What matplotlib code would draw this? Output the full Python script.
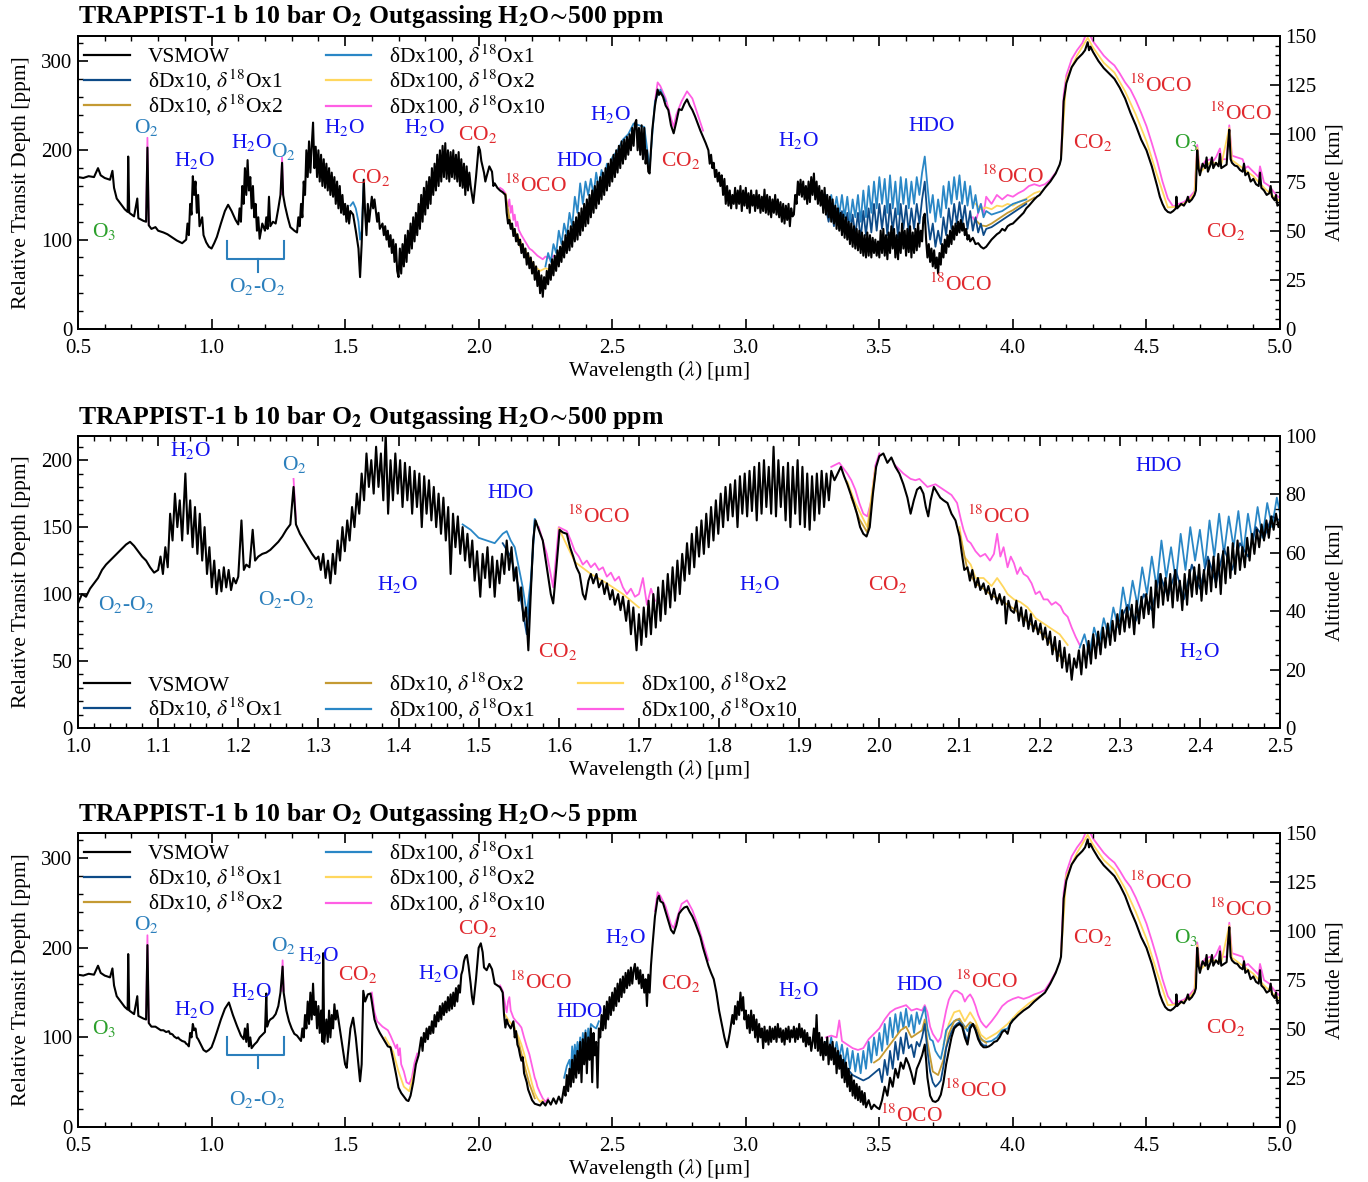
import numpy as np
import matplotlib
matplotlib.use("Agg")
import matplotlib.pyplot as plt
from matplotlib.ticker import MultipleLocator
from matplotlib.lines import Line2D

plt.rcParams['font.family'] = ['Liberation Serif', 'DejaVu Serif']
plt.rcParams['mathtext.fontset'] = 'stix'
plt.rcParams['axes.linewidth'] = 1.3

# ---------------------------------------------------------------- series
series_labels = ["VSMOW",
                 "δDx10, $\\delta^{18}$Ox1",
                 "δDx10, $\\delta^{18}$Ox2",
                 "δDx100, $\\delta^{18}$Ox1",
                 "δDx100, $\\delta^{18}$Ox2",
                 "δDx100, $\\delta^{18}$Ox10"]
series_colors = ["black", "#0d4a87", "#c49a33", "#2a87c6", "#ffd75e", "#ff5fe4"]

# Spectra are stored as flat (wavelength [um], depth [ppm]) pairs.
# Shared short-wavelength start (0.50-0.765 um) of the 0.5-5 um spectra
head_vsmow = [0.50,170, 0.52,169, 0.54,171, 0.56,170, 0.575,180, 0.585,172, 0.60,169,
              0.62,167, 0.629,177, 0.635,158, 0.645,146, 0.66,140, 0.675,134, 0.686,131,
              0.688,193, 0.692,130, 0.71,126, 0.722,146, 0.726,124, 0.745,121, 0.755,120,
              0.76,203, 0.765,116]

# Shared 4.3 um CO2 band and red end
tail_vsmow = [4.175,184, 4.18,190, 4.185,220, 4.19,255, 4.20,275, 4.22,293, 4.24,302,
              4.26,308, 4.27,312, 4.28,321, 4.285,312, 4.29,316, 4.30,310, 4.32,300,
              4.34,292, 4.36,286, 4.38,280, 4.40,270, 4.42,258, 4.44,242, 4.46,228,
              4.48,212, 4.50,200, 4.52,182, 4.54,160, 4.55,148, 4.56,140, 4.57,134,
              4.58,131, 4.59,130, 4.60,132, 4.61,135, 4.612,148, 4.615,135, 4.63,140,
              4.64,138, 4.65,143, 4.655,148, 4.66,142, 4.67,145, 4.68,150, 4.685,155,
              4.69,200, 4.695,180, 4.70,172, 4.71,185, 4.72,180, 4.725,192, 4.73,176,
              4.74,184, 4.745,192, 4.75,180, 4.76,186, 4.77,182, 4.775,196, 4.78,180,
              4.79,182, 4.80,184, 4.805,205, 4.81,223, 4.815,190, 4.82,186, 4.83,183,
              4.84,182, 4.85,178, 4.86,176, 4.865,185, 4.87,172, 4.88,175, 4.89,165,
              4.90,168, 4.91,162, 4.92,160, 4.925,175, 4.93,158, 4.94,155, 4.95,150,
              4.96,152, 4.965,160, 4.97,148, 4.98,144, 4.985,150, 4.99,138, 5.00,140]
tail_pink = [4.18,192, 4.19,262, 4.20,284, 4.22,302, 4.24,312, 4.26,320, 4.28,334,
             4.30,322, 4.32,314, 4.34,306, 4.36,300, 4.38,295, 4.40,286, 4.42,276,
             4.44,268, 4.46,256, 4.48,242, 4.50,227, 4.52,208, 4.54,188, 4.56,165,
             4.58,146, 4.60,137, 4.62,140, 4.64,142, 4.66,147, 4.68,154, 4.69,206,
             4.70,178, 4.72,188, 4.74,190, 4.75,188, 4.76,192, 4.775,202, 4.78,190,
             4.80,190, 4.81,228, 4.82,194, 4.84,192, 4.86,190, 4.87,180, 4.88,182,
             4.90,176, 4.92,170, 4.925,182, 4.94,164, 4.96,160, 4.98,152, 5.00,146]
tail_yellow = [4.18,191, 4.20,280, 4.24,306, 4.28,326, 4.30,315, 4.34,298, 4.38,287,
               4.42,266, 4.46,240, 4.50,210, 4.54,172, 4.58,136, 4.62,137, 4.66,144,
               4.68,152, 4.69,203, 4.70,175, 4.74,187, 4.78,184, 4.81,225, 4.82,189,
               4.86,180, 4.90,171, 4.94,158, 4.98,147, 5.00,143]

# ---- Panel 1: H2O ~500 ppm, 0.5-5 um
p1_vsmow_mid = [
    0.775,112, 0.79,114, 0.80,110, 0.82,108, 0.835,106, 0.85,103, 0.87,99, 0.89,96,
    0.905,100, 0.91,118, 0.915,105, 0.92,140, 0.925,128, 0.93,171, 0.935,150, 0.94,165,
    0.945,130, 0.95,150, 0.955,115, 0.965,125, 0.97,105, 0.98,97, 0.99,92, 1.00,90,
    1.01,96, 1.02,103, 1.035,118, 1.05,132, 1.062,139, 1.075,132, 1.09,122, 1.10,117,
    1.105,135, 1.11,120, 1.115,160, 1.12,140, 1.125,180, 1.13,150, 1.135,189, 1.14,155,
    1.145,170, 1.15,135, 1.155,160, 1.16,125, 1.165,140, 1.17,110, 1.175,125, 1.18,101,
    1.19,118, 1.20,110, 1.205,125, 1.21,112, 1.215,148, 1.22,115, 1.23,120, 1.24,118,
    1.25,135, 1.258,150, 1.264,186, 1.268,150, 1.275,138, 1.285,125, 1.295,114, 1.31,110,
    1.32,108, 1.325,125, 1.33,115, 1.335,140, 1.34,125, 1.345,165, 1.35,150, 1.355,200,
    1.36,170, 1.365,210, 1.37,175, 1.375,205, 1.38,231, 1.385,180, 1.39,204, 1.395,170,
    1.40,200, 1.405,165, 1.41,195, 1.415,160, 1.42,190, 1.425,158, 1.43,185, 1.435,155,
    1.44,180, 1.445,150, 1.45,175, 1.455,148, 1.46,170, 1.465,140, 1.47,165, 1.475,135,
    1.48,160, 1.485,130, 1.49,150, 1.495,128, 1.50,140, 1.505,120, 1.51,138, 1.515,118,
    1.52,132, 1.53,128, 1.54,110, 1.55,90, 1.556,58, 1.562,95, 1.57,167, 1.575,130,
    1.58,105, 1.585,140, 1.59,120, 1.60,148, 1.605,135, 1.61,145, 1.62,120, 1.625,130,
    1.63,112, 1.64,118, 1.645,105, 1.65,115, 1.655,100, 1.66,110, 1.665,92, 1.67,105,
    1.675,85, 1.68,100, 1.685,75, 1.69,95, 1.695,65, 1.70,58, 1.705,90, 1.71,62, 1.715,95,
    1.72,70, 1.725,105, 1.73,75, 1.735,110, 1.74,85, 1.745,118, 1.75,90, 1.755,125,
    1.76,98, 1.765,130, 1.77,105, 1.775,140, 1.78,112, 1.785,150, 1.79,120, 1.795,158,
    1.80,128, 1.805,165, 1.81,135, 1.815,170, 1.82,140, 1.825,180, 1.83,150, 1.835,185,
    1.84,155, 1.845,195, 1.85,160, 1.855,200, 1.86,165, 1.865,205, 1.87,170, 1.875,208,
    1.88,168, 1.885,200, 1.89,165, 1.895,198, 1.90,170, 1.905,200, 1.91,168, 1.915,195,
    1.92,165, 1.925,198, 1.93,160, 1.935,190, 1.94,158, 1.945,185, 1.95,150, 1.955,182,
    1.96,155, 1.965,175, 1.97,160, 1.975,150, 1.98,141, 1.99,170, 2.00,204, 2.005,200,
    2.01,188, 2.02,175, 2.025,165, 2.03,171, 2.04,182, 2.05,176, 2.055,160, 2.06,163,
    2.07,158, 2.08,155, 2.09,153, 2.10,150, 2.105,130, 2.11,118, 2.115,122, 2.12,112,
    2.125,118, 2.13,104, 2.135,112, 2.14,98, 2.145,106, 2.15,94, 2.155,100, 2.16,85,
    2.165,95, 2.17,80, 2.175,90, 2.18,72, 2.185,85, 2.19,68, 2.195,80, 2.20,62, 2.205,75,
    2.21,55, 2.215,70, 2.22,48, 2.225,65, 2.23,40, 2.235,60, 2.24,36, 2.245,58, 2.25,45,
    2.255,65, 2.26,50, 2.265,72, 2.27,55, 2.275,78, 2.28,60, 2.285,82, 2.29,65, 2.295,88,
    2.30,70, 2.305,92, 2.31,75, 2.315,98, 2.32,80, 2.325,105, 2.33,85, 2.335,110, 2.34,88,
    2.345,115, 2.35,92, 2.355,120, 2.36,98, 2.365,125, 2.37,100, 2.375,130, 2.38,105,
    2.385,135, 2.39,110, 2.395,140, 2.40,115, 2.405,145, 2.41,118, 2.415,150, 2.42,125,
    2.425,155, 2.43,130, 2.435,160, 2.44,135, 2.445,165, 2.45,140, 2.455,170, 2.46,145,
    2.465,175, 2.47,150, 2.475,180, 2.48,155, 2.485,185, 2.49,160, 2.495,190, 2.50,165,
    2.505,195, 2.51,170, 2.515,200, 2.52,175, 2.525,205, 2.53,180, 2.535,210, 2.54,185,
    2.545,212, 2.55,190, 2.555,215, 2.56,195, 2.565,218, 2.57,200, 2.575,225, 2.58,205,
    2.585,230, 2.59,234, 2.595,200, 2.60,225, 2.605,195, 2.61,228, 2.615,190, 2.62,225,
    2.625,185, 2.63,200, 2.635,176, 2.64,174, 2.645,200, 2.65,223, 2.66,250, 2.67,268,
    2.675,262, 2.68,265, 2.69,260, 2.70,250, 2.71,245, 2.72,228, 2.73,219, 2.74,232,
    2.75,246, 2.76,245, 2.77,252, 2.78,257, 2.79,250, 2.80,245, 2.81,238, 2.82,230,
    2.83,222, 2.84,215, 2.85,208, 2.86,200, 2.865,185, 2.87,195, 2.875,180, 2.88,186,
    2.885,170, 2.89,178, 2.895,165, 2.90,175, 2.905,160, 2.91,172, 2.915,150, 2.92,168,
    2.925,140, 2.93,160, 2.935,138, 2.94,155, 2.945,135, 2.95,150, 2.955,140, 2.96,158,
    2.965,135, 2.97,155, 2.975,140, 2.98,160, 2.985,132, 2.99,155, 2.995,138, 3.00,158,
    3.005,135, 3.01,152, 3.015,130, 3.02,155, 3.025,138, 3.03,150, 3.035,132, 3.04,155,
    3.045,135, 3.05,150, 3.055,130, 3.06,148, 3.065,132, 3.07,156, 3.075,130, 3.08,150,
    3.085,128, 3.09,148, 3.095,125, 3.10,145, 3.105,130, 3.11,150, 3.115,128, 3.12,145,
    3.125,125, 3.13,142, 3.135,120, 3.14,140, 3.145,118, 3.15,138, 3.155,122, 3.16,140,
    3.165,115, 3.17,135, 3.175,126, 3.18,128, 3.185,150, 3.19,140, 3.195,165, 3.20,150,
    3.205,167, 3.21,148, 3.215,165, 3.22,145, 3.225,160, 3.23,140, 3.235,165, 3.24,142,
    3.245,170, 3.25,150, 3.255,174, 3.26,145, 3.265,165, 3.27,140, 3.275,160, 3.28,138,
    3.285,155, 3.29,130, 3.295,158, 3.30,128, 3.305,150, 3.31,125, 3.315,148, 3.32,120,
    3.325,145, 3.33,118, 3.335,138, 3.34,112, 3.345,135, 3.35,110, 3.355,130, 3.36,105,
    3.365,128, 3.37,102, 3.375,125, 3.38,100, 3.385,120, 3.39,95, 3.395,118, 3.40,92,
    3.405,115, 3.41,90, 3.415,112, 3.42,88, 3.425,110, 3.43,85, 3.435,108, 3.44,82,
    3.445,105, 3.45,80, 3.455,108, 3.46,82, 3.465,105, 3.47,80, 3.475,102, 3.48,85,
    3.485,100, 3.49,82, 3.495,98, 3.50,80, 3.505,110, 3.51,85, 3.515,112, 3.52,82,
    3.525,105, 3.53,78, 3.535,108, 3.54,85, 3.545,115, 3.55,90, 3.555,112, 3.56,80,
    3.565,105, 3.57,78, 3.575,108, 3.58,85, 3.585,118, 3.59,90, 3.595,110, 3.60,82,
    3.605,112, 3.61,86, 3.615,115, 3.62,80, 3.625,108, 3.63,85, 3.635,112, 3.64,88,
    3.645,118, 3.65,92, 3.655,110, 3.66,98, 3.665,125, 3.67,129, 3.675,100, 3.68,80,
    3.685,95, 3.69,75, 3.695,90, 3.70,70, 3.705,88, 3.71,68, 3.715,80, 3.72,62, 3.725,85,
    3.73,72, 3.735,95, 3.74,80, 3.745,100, 3.75,85, 3.755,105, 3.76,92, 3.765,110,
    3.77,95, 3.775,115, 3.78,100, 3.785,118, 3.79,105, 3.795,120, 3.80,108, 3.805,122,
    3.81,110, 3.815,118, 3.82,105, 3.825,112, 3.83,100, 3.835,105, 3.84,98, 3.85,102,
    3.86,95, 3.87,96, 3.88,92, 3.89,90, 3.90,92, 3.91,96, 3.92,100, 3.93,103, 3.94,106,
    3.95,108, 3.96,112, 3.97,110, 3.98,115, 3.99,117, 4.00,118, 4.02,124, 4.04,130,
    4.05,135, 4.06,138, 4.08,145, 4.09,148, 4.10,150, 4.12,158, 4.14,165, 4.16,174]

p1_dx100_o1 = [
    [1.52,138, 1.53,142, 1.54,135, 1.55,120, 1.556,100, 1.562,110, 1.57,167],
    [2.25,70, 2.26,85, 2.27,75, 2.28,95, 2.29,85, 2.30,110, 2.31,95, 2.32,118, 2.33,105,
     2.34,130, 2.35,115, 2.36,148, 2.37,130, 2.38,163, 2.39,140, 2.40,165, 2.41,150,
     2.42,168, 2.43,150, 2.44,175, 2.45,158, 2.46,178, 2.47,165, 2.48,185, 2.49,172,
     2.50,192, 2.52,200, 2.54,212, 2.56,218, 2.58,230, 2.60,228, 2.62,226, 2.64,180,
     2.66,255, 2.68,268, 2.70,255],
    [3.30,150, 3.31,135, 3.32,150, 3.33,130, 3.34,148, 3.35,128, 3.36,150, 3.37,125,
     3.38,148, 3.39,120, 3.40,145, 3.41,125, 3.42,150, 3.43,120, 3.44,155, 3.45,125,
     3.46,160, 3.47,130, 3.48,165, 3.49,135, 3.50,170, 3.51,140, 3.52,168, 3.53,130,
     3.54,172, 3.55,135, 3.56,165, 3.57,128, 3.58,170, 3.59,140, 3.60,168, 3.61,135,
     3.62,165, 3.63,140, 3.64,170, 3.65,150, 3.66,175, 3.67,193, 3.68,160, 3.69,130,
     3.70,150, 3.71,120, 3.72,145, 3.73,125, 3.74,160, 3.75,135, 3.76,165, 3.77,140,
     3.78,170, 3.79,145, 3.80,172, 3.81,140, 3.82,165, 3.83,138, 3.84,160, 3.85,135,
     3.86,150, 3.87,130, 3.88,140, 3.89,125, 3.90,132, 3.92,128, 3.94,130, 3.96,132,
     3.98,136, 4.00,140, 4.02,142, 4.05,145]]
p1_dx10_o1 = [
    [2.30,78, 2.31,84, 2.32,90, 2.33,95, 2.34,100, 2.35,105, 2.36,112, 2.37,118,
     2.38,122, 2.39,126, 2.40,132, 2.42,140, 2.44,150, 2.46,160, 2.48,168, 2.50,176],
    [3.30,135, 3.31,120, 3.32,138, 3.33,115, 3.34,135, 3.35,112, 3.36,132, 3.37,108,
     3.38,130, 3.39,105, 3.40,128, 3.41,105, 3.42,130, 3.43,100, 3.44,132, 3.45,105,
     3.46,135, 3.47,108, 3.48,140, 3.49,110, 3.50,140, 3.51,112, 3.52,138, 3.53,105,
     3.54,140, 3.55,110, 3.56,135, 3.57,102, 3.58,140, 3.59,112, 3.60,138, 3.61,108,
     3.62,135, 3.63,112, 3.64,140, 3.65,118, 3.66,145, 3.67,165, 3.68,125, 3.69,100,
     3.70,118, 3.71,92, 3.72,110, 3.73,95, 3.74,125, 3.75,105, 3.76,135, 3.77,112,
     3.78,140, 3.79,118, 3.80,142, 3.81,118, 3.82,138, 3.83,112, 3.84,132, 3.85,110,
     3.86,125, 3.87,108, 3.88,118, 3.89,105, 3.90,112, 3.92,114, 3.94,118, 3.96,122,
     3.98,126, 4.00,130, 4.02,134, 4.05,140]]
p1_dx10_o2 = [
    [2.10,151, 2.12,116, 2.14,102, 2.16,90, 2.18,78, 2.20,68, 2.22,56, 2.24,48],
    [3.86,122, 3.88,116, 3.90,115, 3.92,118, 3.94,122, 3.96,126, 3.98,130, 4.00,133,
     4.02,137, 4.05,142, 4.08,147]]
p1_dx100_o2 = [
    [2.10,151, 2.11,125, 2.13,112, 2.15,102, 2.17,90, 2.19,80, 2.21,70, 2.23,65,
     2.25,68, 2.27,66],
    [3.86,140, 3.88,134, 3.90,136, 3.92,134, 3.94,138, 3.96,137, 3.98,140, 4.00,138,
     4.02,142, 4.05,146, 4.08,152, 4.10,154]]
p1_dx100_o10 = [
    [0.755,121, 0.76,214, 0.765,117],
    [1.26,151, 1.264,192, 1.268,151],
    [2.08,158, 2.09,156, 2.10,152, 2.105,140, 2.11,137, 2.115,145, 2.12,130, 2.125,138,
     2.13,122, 2.135,128, 2.14,115, 2.145,120, 2.15,111, 2.16,105, 2.17,100, 2.18,95,
     2.19,90, 2.20,88, 2.21,85, 2.22,82, 2.23,80, 2.24,78, 2.25,81, 2.26,80, 2.27,78,
     2.28,82],
    [2.66,255, 2.67,276, 2.68,272, 2.70,258, 2.72,236, 2.73,226, 2.74,240, 2.76,255,
     2.78,266, 2.80,258, 2.82,240, 2.84,222],
    [3.85,125, 3.86,120, 3.88,140, 3.89,128, 3.90,148, 3.92,140, 3.94,150, 3.96,145,
     3.98,150, 4.00,148, 4.02,152, 4.04,155, 4.06,160, 4.08,162, 4.10,160, 4.12,162,
     4.14,167, 4.16,175]]

# ---- Panel 2: H2O ~500 ppm, 1.0-2.5 um
p2_vsmow = [
    1.000,93, 1.005,100, 1.010,98, 1.015,104, 1.020,108, 1.025,112, 1.030,118, 1.035,122,
    1.040,125, 1.045,128, 1.050,131, 1.055,134, 1.060,137, 1.065,139, 1.070,136,
    1.075,132, 1.080,128, 1.085,125, 1.090,120, 1.095,116, 1.100,118, 1.103,128,
    1.106,115, 1.109,135, 1.112,120, 1.115,160, 1.118,140, 1.121,175, 1.124,150,
    1.127,170, 1.130,140, 1.134,190, 1.137,145, 1.140,170, 1.143,135, 1.146,165,
    1.149,130, 1.152,160, 1.155,125, 1.158,150, 1.161,115, 1.164,135, 1.167,105,
    1.170,125, 1.173,100, 1.176,118, 1.179,102, 1.182,120, 1.185,105, 1.188,118,
    1.191,103, 1.194,112, 1.197,108, 1.200,113, 1.204,155, 1.207,118, 1.210,122,
    1.214,120, 1.218,148, 1.221,125, 1.225,128, 1.230,130, 1.235,131, 1.240,133,
    1.245,136, 1.250,139, 1.255,143, 1.260,148, 1.265,152, 1.269,180, 1.272,152,
    1.277,145, 1.282,140, 1.287,135, 1.292,130, 1.297,126, 1.300,128, 1.303,118,
    1.306,130, 1.309,112, 1.312,125, 1.315,108, 1.318,130, 1.321,115, 1.324,140,
    1.327,125, 1.330,150, 1.333,132, 1.336,155, 1.339,140, 1.342,165, 1.345,150,
    1.348,175, 1.351,160, 1.354,190, 1.357,170, 1.360,205, 1.363,180, 1.366,200,
    1.369,175, 1.372,210, 1.375,180, 1.378,205, 1.381,170, 1.384,220, 1.387,160,
    1.390,200, 1.393,170, 1.396,205, 1.399,175, 1.402,200, 1.405,165, 1.408,198,
    1.411,170, 1.414,195, 1.417,160, 1.420,192, 1.423,165, 1.426,190, 1.429,150,
    1.432,188, 1.435,160, 1.438,185, 1.441,155, 1.444,180, 1.447,150, 1.450,175,
    1.453,145, 1.456,172, 1.459,140, 1.462,165, 1.465,115, 1.468,160, 1.471,135,
    1.474,158, 1.477,130, 1.480,150, 1.483,125, 1.486,145, 1.489,120, 1.492,140,
    1.495,110, 1.498,132, 1.502,98, 1.505,130, 1.508,112, 1.511,135, 1.514,105,
    1.517,128, 1.520,98, 1.523,125, 1.526,108, 1.529,130, 1.532,115, 1.535,140,
    1.538,118, 1.541,135, 1.544,110, 1.547,120, 1.550,95, 1.553,105, 1.556,80,
    1.559,90, 1.562,58, 1.565,100, 1.568,140, 1.571,155, 1.575,148, 1.580,140,
    1.585,120, 1.590,100, 1.593,93, 1.597,120, 1.601,148, 1.605,146, 1.610,145,
    1.614,135, 1.618,128, 1.622,120, 1.626,115, 1.630,100, 1.633,96, 1.637,110,
    1.640,115, 1.643,108, 1.647,115, 1.650,105, 1.654,110, 1.657,100, 1.660,108,
    1.664,96, 1.667,103, 1.670,92, 1.674,100, 1.677,88, 1.680,98, 1.684,80, 1.687,95,
    1.690,70, 1.693,90, 1.697,58, 1.700,85, 1.703,62, 1.706,90, 1.709,68, 1.712,95,
    1.715,70, 1.718,100, 1.721,75, 1.724,105, 1.727,80, 1.730,110, 1.733,85, 1.736,115,
    1.739,90, 1.742,120, 1.745,95, 1.748,125, 1.751,100, 1.754,130, 1.757,110,
    1.760,138, 1.763,115, 1.766,145, 1.769,120, 1.772,150, 1.775,128, 1.778,155,
    1.781,130, 1.784,160, 1.787,135, 1.790,165, 1.793,140, 1.796,170, 1.799,145,
    1.802,175, 1.805,150, 1.808,180, 1.811,155, 1.814,182, 1.817,158, 1.820,185,
    1.823,150, 1.826,188, 1.829,160, 1.832,190, 1.835,158, 1.838,192, 1.841,162,
    1.844,195, 1.847,155, 1.850,198, 1.853,160, 1.856,200, 1.859,165, 1.862,195,
    1.865,160, 1.868,210, 1.871,158, 1.874,200, 1.877,165, 1.880,195, 1.883,155,
    1.886,198, 1.889,150, 1.892,195, 1.895,160, 1.898,200, 1.901,152, 1.904,195,
    1.907,150, 1.910,190, 1.913,148, 1.916,188, 1.919,155, 1.922,190, 1.925,160,
    1.928,192, 1.931,165, 1.934,190, 1.937,170, 1.940,192, 1.944,185, 1.948,190,
    1.952,195, 1.956,188, 1.960,182, 1.964,175, 1.968,168, 1.972,160, 1.976,150,
    1.980,145, 1.984,143, 1.988,150, 1.992,175, 1.996,195, 2.000,203, 2.005,205,
    2.010,198, 2.015,202, 2.020,195, 2.025,190, 2.030,182, 2.035,172, 2.039,160,
    2.043,170, 2.047,178, 2.051,180, 2.055,175, 2.058,165, 2.061,158, 2.064,170,
    2.068,180, 2.072,176, 2.076,172, 2.080,170, 2.085,168, 2.090,160, 2.095,155,
    2.100,143, 2.103,130, 2.106,118, 2.110,120, 2.113,110, 2.116,118, 2.120,105,
    2.123,112, 2.126,103, 2.130,108, 2.133,100, 2.136,106, 2.140,96, 2.143,104,
    2.147,93, 2.150,100, 2.153,92, 2.156,98, 2.158,78, 2.161,95, 2.164,88, 2.168,86,
    2.171,95, 2.174,80, 2.177,90, 2.180,76, 2.183,88, 2.186,74, 2.189,85, 2.192,72,
    2.195,80, 2.198,70, 2.201,78, 2.204,66, 2.207,75, 2.210,62, 2.213,72, 2.216,55,
    2.219,68, 2.222,50, 2.225,65, 2.228,45, 2.231,60, 2.234,42, 2.237,55, 2.240,36,
    2.243,52, 2.246,45, 2.249,58, 2.252,40, 2.255,62, 2.258,45, 2.261,65, 2.264,48,
    2.267,70, 2.270,52, 2.273,72, 2.276,55, 2.279,75, 2.282,60, 2.285,78, 2.288,62,
    2.291,80, 2.294,65, 2.297,85, 2.300,70, 2.303,88, 2.306,72, 2.309,90, 2.312,75,
    2.315,92, 2.318,70, 2.321,95, 2.324,78, 2.327,98, 2.330,82, 2.333,100, 2.336,85,
    2.339,105, 2.342,75, 2.345,110, 2.348,90, 2.351,115, 2.354,92, 2.357,112, 2.360,95,
    2.363,115, 2.366,90, 2.369,118, 2.372,95, 2.375,110, 2.378,88, 2.381,115, 2.384,92,
    2.387,118, 2.390,98, 2.393,120, 2.396,100, 2.399,122, 2.402,95, 2.405,118,
    2.408,100, 2.411,125, 2.414,102, 2.417,128, 2.420,105, 2.423,130, 2.426,100,
    2.429,132, 2.432,108, 2.435,135, 2.438,112, 2.441,138, 2.444,115, 2.447,140,
    2.450,118, 2.453,135, 2.456,120, 2.459,142, 2.462,125, 2.465,145, 2.468,130,
    2.471,148, 2.474,135, 2.477,152, 2.480,140, 2.483,155, 2.486,142, 2.489,158,
    2.492,148, 2.495,160, 2.498,150, 2.500,155]

p2_dx100_o1 = [
    [1.48,152, 1.49,148, 1.50,142, 1.51,140, 1.52,138, 1.53,145, 1.535,147, 1.54,140,
     1.545,135, 1.55,120, 1.555,105, 1.56,85, 1.565,110, 1.57,156],
    [2.250,60, 2.256,70, 2.262,55, 2.268,75, 2.274,62, 2.280,82, 2.286,68, 2.292,90,
     2.298,75, 2.304,105, 2.310,85, 2.316,110, 2.322,92, 2.328,120, 2.334,100,
     2.340,128, 2.346,105, 2.352,140, 2.358,112, 2.364,135, 2.370,110, 2.376,145,
     2.382,118, 2.388,150, 2.394,125, 2.400,148, 2.406,120, 2.412,155, 2.418,128,
     2.424,160, 2.430,130, 2.436,158, 2.442,135, 2.448,162, 2.454,130, 2.460,160,
     2.466,138, 2.472,165, 2.478,142, 2.484,168, 2.490,150, 2.496,172, 2.500,160]]
p2_dx10_o1 = [
    [1.53,138, 1.54,128, 1.55,105, 1.56,70, 1.565,104, 1.57,155],
    [2.30,80, 2.31,92, 2.32,80, 2.33,100, 2.34,88, 2.35,115, 2.36,98, 2.37,118, 2.38,96,
     2.39,122, 2.40,104, 2.41,128, 2.42,108, 2.43,134, 2.44,118, 2.45,138, 2.46,128,
     2.47,150, 2.48,142, 2.49,158, 2.50,155]]
p2_dx10_o2 = [
    [1.965,172, 1.975,156, 1.985,146, 1.995,190],
    [2.100,146, 2.110,118, 2.120,108, 2.130,104, 2.140,99, 2.150,96, 2.160,92,
     2.170,88, 2.180,82, 2.190,77, 2.200,72, 2.210,66, 2.220,58, 2.230,50]]
p2_dx100_o2 = [
    [1.60,149, 1.62,124, 1.64,115, 1.66,108, 1.68,100, 1.70,90],
    [1.960,184, 1.970,168, 1.985,150, 1.995,194],
    [2.100,150, 2.106,128, 2.114,122, 2.120,112, 2.130,112, 2.140,106, 2.147,112,
     2.155,105, 2.160,100, 2.168,96, 2.176,94, 2.185,90, 2.195,82, 2.205,78, 2.215,74,
     2.225,70, 2.235,62]]
p2_dx100_o10 = [
    [1.269,186, 1.272,156],
    [1.575,150, 1.585,130, 1.593,105, 1.60,150, 1.61,147, 1.615,140, 1.62,132, 1.625,128,
     1.63,122, 1.635,125, 1.64,120, 1.645,123, 1.65,118, 1.655,120, 1.66,113, 1.665,116,
     1.67,110, 1.675,113, 1.68,105, 1.685,100, 1.69,104, 1.695,98, 1.70,100, 1.705,112,
     1.71,92, 1.715,104, 1.72,95],
    [1.940,195, 1.950,198, 1.960,190, 1.965,185, 1.970,178, 1.975,168, 1.980,160,
     1.985,158, 1.990,170, 1.995,196, 2.000,205],
    [2.020,196, 2.030,190, 2.039,186, 2.045,185, 2.050,186, 2.060,180, 2.070,182,
     2.080,178, 2.090,174, 2.097,168, 2.102,155, 2.105,148, 2.110,140, 2.114,138,
     2.120,132, 2.126,128, 2.132,130, 2.138,125, 2.143,130, 2.147,145, 2.151,128,
     2.155,135, 2.160,120, 2.164,128, 2.168,123, 2.172,115, 2.176,120, 2.180,115,
     2.185,113, 2.190,108, 2.195,100, 2.200,102, 2.205,96, 2.210,96, 2.215,92, 2.220,94,
     2.226,91, 2.230,86, 2.235,83, 2.240,75, 2.245,68, 2.250,62]]

# ---- Panel 3: H2O ~5 ppm, 0.5-5 um
p3_vsmow_mid = [
    0.775,112, 0.79,112, 0.80,110, 0.81,108, 0.82,108, 0.83,106, 0.84,107, 0.845,104,
    0.85,104, 0.855,103, 0.86,101, 0.87,99, 0.875,100, 0.88,98, 0.89,96, 0.90,95,
    0.905,93, 0.91,92, 0.915,90, 0.92,105, 0.925,100, 0.93,115, 0.935,108, 0.94,110,
    0.945,100, 0.95,98, 0.96,92, 0.97,86, 0.98,84, 0.99,86, 1.00,89, 1.01,97, 1.02,106,
    1.035,120, 1.05,132, 1.065,139, 1.08,125, 1.095,113, 1.11,102, 1.12,98, 1.125,110,
    1.13,95, 1.135,115, 1.14,90, 1.145,100, 1.15,88, 1.16,92, 1.17,95, 1.18,100,
    1.19,103, 1.20,106, 1.205,149, 1.208,112, 1.215,118, 1.22,120, 1.23,122, 1.24,126,
    1.25,135, 1.258,150, 1.266,179, 1.27,150, 1.28,130, 1.29,118, 1.30,110, 1.31,104,
    1.32,102, 1.33,98, 1.335,96, 1.34,110, 1.345,100, 1.35,125, 1.355,110, 1.36,140,
    1.365,115, 1.37,150, 1.375,120, 1.38,160, 1.385,125, 1.39,140, 1.395,110, 1.40,135,
    1.405,105, 1.41,130, 1.415,95, 1.418,194, 1.422,93, 1.43,120, 1.435,95, 1.44,130,
    1.445,100, 1.45,125, 1.455,110, 1.46,137, 1.465,120, 1.47,130, 1.48,110, 1.49,90,
    1.50,70, 1.506,66, 1.51,80, 1.52,110, 1.53,122, 1.54,100, 1.55,70, 1.556,51,
    1.562,70, 1.568,152, 1.575,140, 1.585,148, 1.595,149, 1.60,140, 1.61,120, 1.62,111,
    1.63,105, 1.64,100, 1.65,95, 1.66,90, 1.67,89, 1.68,75, 1.69,60, 1.70,44, 1.71,38,
    1.72,34, 1.73,30, 1.737,29, 1.745,35, 1.755,50, 1.765,70, 1.775,80, 1.78,90,
    1.785,100, 1.79,85, 1.795,105, 1.80,95, 1.805,110, 1.81,98, 1.815,112, 1.82,104,
    1.825,118, 1.83,105, 1.835,125, 1.84,112, 1.845,128, 1.85,118, 1.855,135, 1.86,120,
    1.865,138, 1.87,125, 1.875,140, 1.88,128, 1.885,145, 1.89,130, 1.895,148, 1.90,132,
    1.905,150, 1.91,135, 1.915,155, 1.92,140, 1.925,158, 1.93,150, 1.935,170, 1.94,175,
    1.945,185, 1.95,190, 1.956,192, 1.962,180, 1.97,160, 1.975,145, 1.98,137, 1.99,165,
    2.00,200, 2.008,205, 2.015,195, 2.02,178, 2.03,175, 2.04,182, 2.05,176, 2.06,160,
    2.07,158, 2.08,156, 2.09,150, 2.095,125, 2.10,111, 2.105,120, 2.11,115, 2.12,110,
    2.13,118, 2.135,100, 2.14,107, 2.145,92, 2.15,88, 2.155,80, 2.16,74, 2.165,78,
    2.17,60, 2.175,55, 2.18,50, 2.185,42, 2.19,38, 2.20,30, 2.21,26, 2.22,25, 2.23,24,
    2.24,28, 2.25,24, 2.26,30, 2.27,25, 2.28,32, 2.29,26, 2.30,34, 2.31,27, 2.32,45,
    2.325,35, 2.33,58, 2.335,40, 2.34,65, 2.345,45, 2.35,75, 2.355,50, 2.36,80, 2.365,55,
    2.37,85, 2.375,60, 2.38,95, 2.385,50, 2.39,98, 2.395,70, 2.40,105, 2.405,60,
    2.41,100, 2.415,75, 2.42,110, 2.425,50, 2.43,105, 2.435,80, 2.44,95, 2.445,44,
    2.45,110, 2.455,100, 2.46,125, 2.465,108, 2.47,135, 2.475,110, 2.48,140, 2.485,120,
    2.49,145, 2.495,125, 2.50,150, 2.505,130, 2.51,155, 2.515,135, 2.52,160, 2.525,140,
    2.53,165, 2.535,145, 2.54,168, 2.545,150, 2.55,172, 2.555,155, 2.56,175, 2.565,158,
    2.57,178, 2.575,160, 2.58,175, 2.585,182, 2.59,165, 2.595,178, 2.60,160, 2.605,175,
    2.61,155, 2.615,170, 2.62,150, 2.625,165, 2.63,135, 2.635,170, 2.64,150, 2.645,180,
    2.65,200, 2.66,235, 2.67,255, 2.675,258, 2.68,252, 2.69,250, 2.70,240, 2.71,230,
    2.72,220, 2.73,216, 2.74,225, 2.75,238, 2.76,242, 2.77,245, 2.78,246, 2.79,240,
    2.80,235, 2.81,228, 2.82,220, 2.83,212, 2.84,200, 2.85,190, 2.86,180, 2.87,172,
    2.88,165, 2.89,150, 2.90,130, 2.91,115, 2.92,100, 2.93,89, 2.94,105, 2.95,125,
    2.955,115, 2.96,135, 2.965,120, 2.97,140, 2.975,125, 2.98,150, 2.985,130, 2.99,145,
    2.995,120, 3.00,130, 3.005,110, 3.01,125, 3.015,105, 3.02,130, 3.025,108, 3.03,125,
    3.035,100, 3.04,120, 3.045,95, 3.05,115, 3.055,100, 3.06,110, 3.065,88, 3.07,112,
    3.075,95, 3.08,108, 3.085,92, 3.09,112, 3.095,95, 3.10,110, 3.105,98, 3.11,112,
    3.115,95, 3.12,115, 3.125,100, 3.13,110, 3.135,95, 3.14,108, 3.145,92, 3.15,110,
    3.155,98, 3.16,112, 3.165,95, 3.17,108, 3.175,100, 3.18,112, 3.185,95, 3.19,110,
    3.195,98, 3.20,115, 3.205,100, 3.21,110, 3.215,95, 3.22,108, 3.225,90, 3.23,105,
    3.235,92, 3.24,100, 3.245,85, 3.25,95, 3.255,110, 3.26,88, 3.265,125, 3.27,85,
    3.275,105, 3.28,80, 3.285,100, 3.29,75, 3.295,95, 3.30,80, 3.305,100, 3.31,70,
    3.315,92, 3.32,75, 3.325,95, 3.33,70, 3.335,88, 3.34,60, 3.345,85, 3.35,65, 3.355,80,
    3.36,55, 3.365,75, 3.37,50, 3.375,72, 3.38,45, 3.385,65, 3.39,40, 3.395,58, 3.40,35,
    3.405,52, 3.41,32, 3.415,48, 3.42,30, 3.425,45, 3.43,28, 3.435,40, 3.44,25, 3.445,38,
    3.45,22, 3.46,30, 3.47,20, 3.48,25, 3.49,22, 3.50,20, 3.51,30, 3.52,45, 3.53,35,
    3.54,55, 3.55,45, 3.56,65, 3.57,55, 3.58,72, 3.59,65, 3.60,77, 3.61,70, 3.62,60,
    3.63,48, 3.64,65, 3.65,72, 3.66,80, 3.67,92, 3.675,75, 3.68,55, 3.69,35, 3.70,29,
    3.71,28, 3.72,30, 3.73,36, 3.74,50, 3.75,70, 3.76,85, 3.77,100, 3.78,110, 3.79,113,
    3.80,115, 3.81,112, 3.82,100, 3.83,92, 3.84,110, 3.85,115, 3.86,108, 3.87,98,
    3.88,92, 3.89,89, 3.90,89, 3.91,90, 3.92,92, 3.93,95, 3.94,96, 3.95,100, 3.96,106,
    3.97,108, 3.98,104, 3.99,115, 4.00,119, 4.02,125, 4.04,130, 4.06,134, 4.08,140,
    4.10,145, 4.12,150, 4.14,160, 4.16,172]

p3_dx100_o1 = [
    [2.32,55, 2.33,68, 2.34,75, 2.345,60, 2.35,90, 2.355,72, 2.36,92, 2.365,78, 2.37,95,
     2.375,80, 2.38,100, 2.385,78, 2.39,105, 2.395,88, 2.40,108, 2.405,85, 2.41,110,
     2.415,92, 2.42,115, 2.43,112, 2.44,110, 2.45,118],
    [3.30,95, 3.31,82, 3.32,100, 3.33,80, 3.34,95, 3.35,78, 3.36,92, 3.37,70, 3.38,88,
     3.39,65, 3.40,85, 3.41,62, 3.42,82, 3.43,60, 3.44,85, 3.45,65, 3.46,95, 3.47,72,
     3.48,100, 3.49,80, 3.50,105, 3.51,85, 3.52,115, 3.53,92, 3.54,122, 3.55,100,
     3.56,126, 3.57,105, 3.58,128, 3.59,110, 3.60,132, 3.61,112, 3.62,125, 3.63,105,
     3.64,128, 3.65,115, 3.66,125, 3.67,134, 3.68,110, 3.69,98, 3.70,96, 3.71,85,
     3.72,80, 3.73,76, 3.74,90, 3.75,108, 3.76,112, 3.77,115, 3.78,118, 3.79,120,
     3.80,119, 3.81,116, 3.82,112, 3.83,107, 3.84,114, 3.85,115, 3.86,110, 3.87,104,
     3.88,99, 3.89,96, 3.90,95, 3.92,96, 3.94,100, 3.96,108, 3.98,110, 4.00,120]]
p3_dx10_o1 = [
    [3.30,88, 3.32,88, 3.34,82, 3.36,75, 3.38,65, 3.40,58, 3.42,55, 3.44,52, 3.46,55,
     3.48,60, 3.50,65, 3.51,50, 3.52,75, 3.53,58, 3.54,85, 3.55,65, 3.56,95, 3.57,75,
     3.58,100, 3.59,82, 3.60,105, 3.61,88, 3.62,92, 3.63,78, 3.64,95, 3.65,90, 3.66,100,
     3.67,115, 3.68,85, 3.69,62, 3.70,50, 3.71,45, 3.72,48, 3.73,52, 3.74,68, 3.75,88,
     3.76,98, 3.77,106, 3.78,112, 3.79,115, 3.80,117, 3.81,114, 3.82,104, 3.83,96,
     3.84,111, 3.85,115, 3.86,109, 3.87,100, 3.88,94, 3.89,91, 3.90,91]]
p3_dx10_o2 = [
    [2.13,116, 2.15,94, 2.17,70, 2.19,48, 2.21,32],
    [3.48,72, 3.50,76, 3.52,84, 3.54,92, 3.56,100, 3.58,108, 3.60,112, 3.62,100,
     3.64,104, 3.66,108, 3.67,120, 3.68,95, 3.70,62, 3.72,58, 3.74,75, 3.76,104,
     3.78,118, 3.80,121, 3.82,110, 3.84,117, 3.86,113, 3.88,98, 3.90,94]]
p3_dx100_o2 = [
    [1.65,100, 1.68,84, 1.70,62, 1.72,45, 1.74,40, 1.76,62],
    [2.10,125, 2.11,120, 2.12,116, 2.13,112, 2.14,106, 2.15,100, 2.16,92, 2.17,82,
     2.18,70, 2.19,60, 2.20,48, 2.21,38, 2.22,32, 2.23,28, 2.24,30],
    [3.74,92, 3.76,115, 3.78,128, 3.80,130, 3.82,118, 3.84,128, 3.86,118, 3.88,103,
     3.90,98, 3.94,105, 3.98,115, 4.02,128, 4.06,138, 4.10,146]]
p3_dx100_o10 = [
    [0.755,121, 0.76,214, 0.765,117],
    [1.262,152, 1.266,186, 1.27,152],
    [1.60,150, 1.61,128, 1.62,118, 1.63,115, 1.64,112, 1.65,110, 1.66,108, 1.67,102,
     1.68,95, 1.69,88, 1.695,92, 1.70,80, 1.705,88, 1.71,70, 1.72,62, 1.73,50, 1.74,48,
     1.75,55, 1.76,72, 1.77,82],
    [2.08,158, 2.09,152, 2.10,135, 2.105,128, 2.11,140, 2.115,145, 2.12,130, 2.13,122,
     2.14,118, 2.15,115, 2.16,111, 2.17,100, 2.18,90, 2.19,81, 2.20,68, 2.21,55,
     2.215,51, 2.22,45, 2.23,38, 2.24,32, 2.25,28, 2.26,32],
    [2.66,241, 2.67,262, 2.68,258, 2.70,246, 2.72,226, 2.73,222, 2.74,231, 2.76,249,
     2.78,253, 2.80,242, 2.82,226, 2.84,206, 2.86,186],
    [3.30,100, 3.32,102, 3.34,100, 3.35,119, 3.36,96, 3.38,92, 3.40,88, 3.42,86,
     3.44,88, 3.46,98, 3.48,104, 3.50,110, 3.52,120, 3.54,128, 3.56,132, 3.58,134,
     3.60,136, 3.62,130, 3.64,132, 3.66,130, 3.67,136, 3.68,128, 3.69,112, 3.70,104,
     3.72,95, 3.73,100, 3.74,115, 3.75,130, 3.76,142, 3.77,148, 3.78,152, 3.79,152,
     3.80,150, 3.81,148, 3.82,140, 3.83,145, 3.84,148, 3.85,143, 3.86,135, 3.87,125,
     3.88,118, 3.89,114, 3.90,111, 3.92,118, 3.94,126, 3.96,135, 3.98,140, 4.00,143,
     4.02,145, 4.04,143, 4.06,145, 4.08,148, 4.10,150, 4.12,153, 4.14,162, 4.16,173]]

# ---------------------------------------------------------------- labels
C_H2O, C_O2, C_CO2, C_O3 = "#1414f0", "#2b7fbc", "#e0282d", "#2ca02c"
H2O, HDO, O2, O2O2 = "H$_2$O", "HDO", "O$_2$", "O$_2$-O$_2$"
CO2, OCO, O3 = "CO$_2$", "$^{18}$OCO", "O$_3$"

p1_labels = [(O2, 0.758, 225, C_O2), (H2O, 0.938, 189, C_H2O), (H2O, 1.151, 209, C_H2O),
             (O2, 1.271, 199, C_O2), (O3, 0.597, 109, C_O3), (O2O2, 1.170, 48, C_O2),
             (H2O, 1.496, 225, C_H2O), (H2O, 1.799, 225, C_H2O), (CO2, 1.998, 218, C_CO2),
             (CO2, 1.597, 169, C_CO2), (OCO, 2.211, 160, C_CO2), (HDO, 2.379, 187, C_H2O),
             (H2O, 2.495, 240, C_H2O), (CO2, 2.758, 189, C_CO2), (H2O, 3.199, 211, C_H2O),
             (HDO, 3.697, 227, C_H2O), (OCO, 4.00, 170, C_CO2), (OCO, 3.802, 50, C_CO2),
             (CO2, 4.30, 209, C_CO2), (OCO, 4.551, 272, C_CO2), (OCO, 4.85, 241, C_CO2),
             (O3, 4.648, 209, C_O3), (CO2, 4.798, 109, C_CO2)]
p2_labels = [(H2O, 1.140, 207, C_H2O), (O2, 1.270, 197, C_O2), (O2O2, 1.060, 92, C_O2),
             (O2O2, 1.260, 96, C_O2), (H2O, 1.399, 107, C_H2O), (HDO, 1.540, 175, C_H2O),
             (OCO, 1.650, 158, C_CO2), (CO2, 1.599, 57, C_CO2), (H2O, 1.850, 107, C_H2O),
             (CO2, 2.010, 107, C_CO2), (OCO, 2.148, 158, C_CO2), (HDO, 2.349, 195, C_H2O),
             (H2O, 2.399, 57, C_H2O)]
p3_labels = [(O2, 0.758, 226, C_O2), (O3, 0.597, 110, C_O3), (H2O, 0.938, 131, C_H2O),
             (H2O, 1.151, 151, C_H2O), (O2, 1.271, 203, C_O2), (H2O, 1.399, 191, C_H2O),
             (CO2, 1.548, 170, C_CO2), (O2O2, 1.170, 31, C_O2), (H2O, 1.848, 171, C_H2O),
             (CO2, 1.998, 221, C_CO2), (OCO, 2.23, 161, C_CO2), (HDO, 2.379, 128, C_H2O),
             (H2O, 2.548, 212, C_H2O), (CO2, 2.758, 160, C_CO2), (H2O, 3.199, 152, C_H2O),
             (HDO, 3.649, 158, C_H2O), (OCO, 3.90, 162, C_CO2), (OCO, 3.858, 41, C_CO2),
             (OCO, 3.619, 13, C_CO2), (CO2, 4.30, 211, C_CO2), (OCO, 4.551, 273, C_CO2),
             (OCO, 4.85, 242, C_CO2), (O3, 4.648, 211, C_O3), (CO2, 4.798, 111, C_CO2)]

# O2-O2 collision-induced band bracket: left end, right end, bar level, tick top, stem bottom
p1_bracket = (1.058, 1.272, 78, 99, 64)
p3_bracket = (1.058, 1.272, 80, 101, 66)

FS_TICK, FS_LABEL, FS_ANN, FS_LEG, FS_TITLE = 15, 15.5, 15.5, 15.5, 18.5


# ---------------------------------------------------------------- helpers
def pairs(flat):
    a = np.asarray(flat, float).reshape(-1, 2)
    return a[:, 0], a[:, 1]


def join_segments(segments):
    xs, ys = [], []
    for seg in segments:
        x, y = pairs(seg)
        xs += list(x) + [np.nan]
        ys += list(y) + [np.nan]
    return np.array(xs), np.array(ys)


def draw_panel(ax, black, colored, labels, xlim, ylim, ylim_r, xmaj, xmin, ymaj, ymin,
               rmaj, rmin, title, bracket=None):
    # colored runs first so the reference (VSMOW) trace sits on top
    for k in [5, 4, 3, 2, 1]:
        x, y = join_segments(colored[k - 1])
        ax.plot(x, y, color=series_colors[k], lw=1.3, zorder=1 + (5 - k))
    x, y = pairs(black)
    ax.plot(x, y, color="black", lw=1.5, zorder=10)

    for txt, xv, yv, col in labels:
        ax.text(xv, yv, txt, color=col, ha="center", va="center", fontsize=FS_ANN, zorder=12)
    if bracket is not None:
        x0, x1, yb, yt, ys = bracket
        xc = 0.5 * (x0 + x1) + 0.008
        ax.plot([x0, x0, x1, x1], [yt, yb, yb, yt], color=C_O2, lw=1.5, zorder=12)
        ax.plot([xc, xc], [yb, ys], color=C_O2, lw=1.5, zorder=12)

    ax.set_xlim(*xlim)
    ax.set_ylim(*ylim)
    ax.xaxis.set_major_locator(MultipleLocator(xmaj))
    ax.xaxis.set_minor_locator(MultipleLocator(xmin))
    ax.yaxis.set_major_locator(MultipleLocator(ymaj))
    ax.yaxis.set_minor_locator(MultipleLocator(ymin))
    ax.tick_params(which="both", direction="in", top=True, right=False, labelsize=FS_TICK)
    ax.tick_params(which="major", length=7, width=1.2)
    ax.tick_params(which="minor", length=3.5, width=1.0)
    ax.tick_params(axis="x", which="major", pad=7)
    ax.tick_params(axis="y", which="major", pad=4)
    ax.set_xlabel("Wavelength ($\\lambda$) [μm]", fontsize=FS_LABEL, labelpad=1)
    ax.xaxis.label.set_x(0.483)
    ax.set_ylabel("Relative Transit Depth [ppm]", fontsize=FS_LABEL, labelpad=7)
    ax.set_title(title, loc="left", fontsize=FS_TITLE, fontweight="bold", pad=9)

    axr = ax.twinx()
    axr.set_ylim(*ylim_r)
    axr.yaxis.set_major_locator(MultipleLocator(rmaj))
    axr.yaxis.set_minor_locator(MultipleLocator(rmin))
    axr.tick_params(which="both", direction="in", labelsize=FS_TICK)
    axr.tick_params(which="major", length=7, width=1.2, pad=4)
    axr.tick_params(which="minor", length=3.5, width=1.0)
    axr.set_ylabel("Altitude [km]", fontsize=FS_LABEL, labelpad=6)
    return axr


def add_legend(ax, ncol, loc):
    handles = [Line2D([], [], color=c, lw=1.6) for c in series_colors]
    ax.legend(handles, series_labels, ncol=ncol, loc=loc, frameon=False,
              fontsize=FS_LEG, handlelength=2.1, handletextpad=0.85, labelspacing=0.0,
              columnspacing=2.0, borderaxespad=0.0, borderpad=0.3)


fig = plt.figure(figsize=(13.68, 11.82), dpi=100)
ax1 = fig.add_axes([0.0570, 0.7217, 0.8787, 0.2479])
ax2 = fig.add_axes([0.0570, 0.3841, 0.8787, 0.2470])
ax3 = fig.add_axes([0.0570, 0.0465, 0.8787, 0.2487])

title_500 = "TRAPPIST-1 b 10 bar O$_\\mathbf{2}$ Outgassing H$_\\mathbf{2}$O${\\!\\sim\\!}$500 ppm"
title_5 = "TRAPPIST-1 b 10 bar O$_\\mathbf{2}$ Outgassing H$_\\mathbf{2}$O${\\!\\sim\\!}$5 ppm"

# Panel 1
p1_black = head_vsmow + p1_vsmow_mid + tail_vsmow
p1_colored = [p1_dx10_o1, p1_dx10_o2, p1_dx100_o1, p1_dx100_o2 + [tail_yellow],
              p1_dx100_o10 + [tail_pink]]
draw_panel(ax1, p1_black, p1_colored, p1_labels, (0.5, 5.0), (0, 328), (0, 150),
           0.5, 0.1, 100, 20, 25, 5, title_500, p1_bracket)
add_legend(ax1, 2, "upper left")

# Panel 2
p2_colored = [p2_dx10_o1, p2_dx10_o2, p2_dx100_o1, p2_dx100_o2, p2_dx100_o10]
draw_panel(ax2, p2_vsmow, p2_colored, p2_labels, (1.0, 2.5), (0, 218), (0, 100),
           0.1, 0.02, 50, 10, 20, 5, title_500)
add_legend(ax2, 3, "lower left")

# Panel 3
p3_black = head_vsmow + p3_vsmow_mid + tail_vsmow
p3_colored = [p3_dx10_o1, p3_dx10_o2, p3_dx100_o1, p3_dx100_o2 + [tail_yellow],
              p3_dx100_o10 + [tail_pink]]
draw_panel(ax3, p3_black, p3_colored, p3_labels, (0.5, 5.0), (0, 328), (0, 150),
           0.5, 0.1, 100, 20, 25, 5, title_5, p3_bracket)
add_legend(ax3, 2, "upper left")

fig.savefig("out.png", dpi=100)
